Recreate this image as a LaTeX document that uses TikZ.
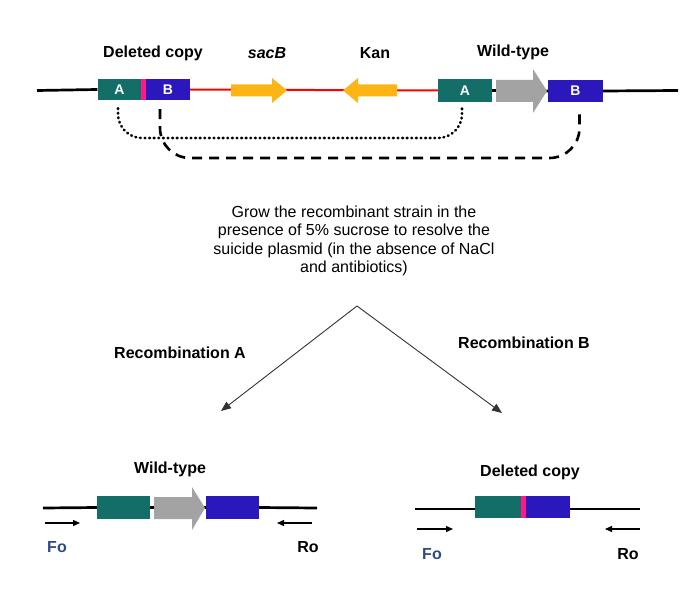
\documentclass[tikz,border=0pt]{standalone}
\usepackage{fontspec}
\setmainfont{Liberation Sans}
\usetikzlibrary{arrows.meta}
\definecolor{teal1}{HTML}{126E66}
\definecolor{blue1}{HTML}{2A18BC}
\definecolor{pink1}{HTML}{FF1A8C}
\definecolor{orange1}{HTML}{FDB515}
\definecolor{gray1}{HTML}{A3A3A3}
\definecolor{red1}{HTML}{FF0000}
\definecolor{foblue}{HTML}{2F4B85}
\begin{document}
\begin{tikzpicture}[x=1pt,y=-1pt,
  lbl/.style={font=\bfseries\fontsize{16}{18}\selectfont, inner sep=0},
  gbox/.style={rectangle, inner sep=0, draw=none, font=\bfseries\fontsize{14}{14}\selectfont, text=white},
  dna/.style={line width=2.7pt},
  redline/.style={line width=2pt, red1},
  dotline/.style={line width=2.6pt, dash pattern=on 0.8pt off 3.8pt, line cap=round},
  dashline/.style={line width=2.6pt, dash pattern=on 10pt off 7pt},
  chev/.style={line width=0.9pt, draw=black!80, {Triangle[length=10pt,width=8pt]}-{Triangle[length=10pt,width=8pt]}},
  primer/.style={line width=1.3pt, -{Triangle[length=7pt,width=6pt]}}
]
\useasboundingbox (0,0) rectangle (695,599);

% ---------- top construct ----------
\node[gbox, fill=teal1, minimum width=44pt, minimum height=21pt] (dA) at (119.5,89.5) {A};
\node[gbox, fill=pink1, minimum width=5pt, minimum height=21pt] (dP) at (143.5,89.5) {};
\node[gbox, fill=blue1, minimum width=44pt, minimum height=21pt] (dB) at (168,89.5) {B};
\node[gbox, fill=teal1, minimum width=54pt, minimum height=23pt] (wA) at (465,90.5) {A};
\node[gbox, fill=blue1, minimum width=55pt, minimum height=22pt] (wB) at (575.5,91) {B};
\coordinate (tl) at (37,90.5);
\coordinate (tr) at (678,90.5);

\draw[dna] (tl) -- (dA.west);
\draw[redline] (dB.east) -- (wA.west);
\draw[dna] (wA.east) -- (wB.west);
\draw[dna] (wB.east) -- (tr);

% sacB arrow
\fill[orange1] (231,84.5) -- (272,84.5) -- (272,78) -- (287,90.5) -- (272,103) -- (272,96.5) -- (231,96.5) -- cycle;
% Kan arrow
\fill[orange1] (397,84.5) -- (358,84.5) -- (358,78) -- (343,90.5) -- (358,103) -- (358,96.5) -- (397,96.5) -- cycle;
% wild-type gray arrow
\fill[gray1] (496,80) -- (533,80) -- (533,69) -- (547,91) -- (533,113) -- (533,102) -- (496,102) -- cycle;

\node[lbl] (tDel) at (153,53) {Deleted copy};
\node[lbl] (tSac) at (267,53) {\itshape sacB};
\node[lbl] (tKan) at (375,53) {Kan};
\node[lbl] (tWT) at (513,52) {Wild-type};

% recombination connectors
\draw[dotline, rounded corners=24pt] ([xshift=-1.5pt,yshift=-8pt]dA.south) |- (300,138) -| ([xshift=-3pt,yshift=-5pt]wA.south);
\draw[dashline, rounded corners=30pt] ([xshift=-8pt,yshift=-9pt]dB.south) |- (370,158) -| ([xshift=4pt,yshift=-8pt]wB.south);

% ---------- middle text ----------
\node[align=center, font=\fontsize{16}{18.5}\selectfont, inner sep=0] (grow) at (354,241)
 {Grow the recombinant strain in the\\presence of 5\% sucrose to resolve the\\suicide plasmid (in the absence of NaCl\\and antibiotics)};

\coordinate (apex) at (357,306);
\coordinate (tipA) at (221,411);
\coordinate (tipB) at (502,413);
\draw[chev] (tipA) -- (apex) -- (tipB);

\node[lbl] (recA) at (180,353) {Recombination A};
\node[lbl] (recB) at (524,343) {Recombination B};

% ---------- bottom left: wild-type ----------
\node[gbox, fill=teal1, minimum width=53pt, minimum height=23pt] (lA) at (123.5,507.5) {};
\node[gbox, fill=blue1, minimum width=53pt, minimum height=23pt] (lB) at (232.5,507.5) {};
\coordinate (ll) at (43,508);
\coordinate (lr) at (317,508);
\draw[dna] (ll) -- (lA.west);
\draw[dna] (lA.east) -- (lB.west);
\draw[dna] (lB.east) -- (lr);
\fill[gray1] (154,497) -- (192,497) -- (192,487) -- (205,508) -- (192,530) -- (192,519) -- (154,519) -- cycle;
\node[lbl] (lWT) at (170,469) {Wild-type};

\coordinate (lFo1) at (45,523); \coordinate (lFo2) at (80,523);
\coordinate (lRo1) at (312,523); \coordinate (lRo2) at (277,523);
\draw[primer] (lFo1) -- (lFo2);
\draw[primer] (lRo1) -- (lRo2);
\node[lbl, text=foblue] (lFo) at (57,547) {Fo};
\node[lbl] (lRo) at (308,547) {Ro};

% ---------- bottom right: deleted copy ----------
\node[gbox, fill=teal1, minimum width=46pt, minimum height=22pt] (rA) at (498,507) {};
\node[gbox, fill=pink1, minimum width=5pt, minimum height=22pt] (rP) at (523.5,507) {};
\node[gbox, fill=blue1, minimum width=44pt, minimum height=22pt] (rB) at (548,507) {};
\coordinate (rl) at (415,509);
\coordinate (rr) at (640,509);
\draw[dna] (rl) -- (rA.west |- rl);
\draw[dna] (rB.east |- rr) -- (rr);
\node[lbl] (rDel) at (530,472) {Deleted copy};

\coordinate (rFo1) at (417,529); \coordinate (rFo2) at (453,529);
\coordinate (rRo1) at (640,529); \coordinate (rRo2) at (605,529);
\draw[primer] (rFo1) -- (rFo2);
\draw[primer] (rRo1) -- (rRo2);
\node[lbl, text=foblue] (rFo) at (432,554) {Fo};
\node[lbl] (rRo) at (628,554) {Ro};
\end{tikzpicture}
\end{document}
